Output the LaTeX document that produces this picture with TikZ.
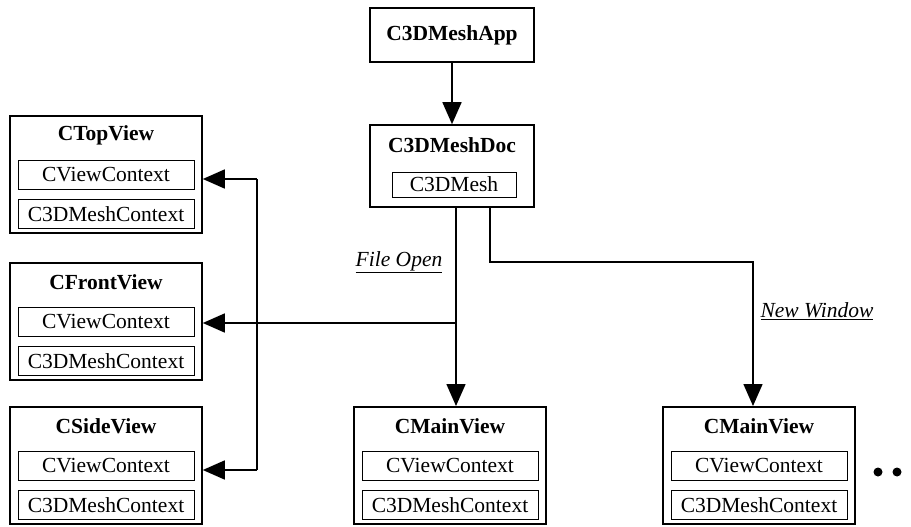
\documentclass[tikz,border=0pt]{standalone}
\usepackage{fontspec}
\setmainfont{Liberation Serif}
\usetikzlibrary{arrows.meta,positioning}

\begin{document}
\begin{tikzpicture}[x=1pt,y=-1pt]
    \tikzstyle{classbox} = [shape=rectangle, draw, line width=1.6pt, minimum width=192pt, minimum height=117pt, inner sep=0pt, anchor=north];
    \tikzstyle{topbox} = [shape=rectangle, draw, line width=1.6pt, minimum width=164pt, inner sep=0pt];
    \tikzstyle{member} = [shape=rectangle, draw, line width=1pt, minimum width=176pt, minimum height=29pt, inner sep=0pt, font=\fontsize{21.5}{24}\selectfont];
    \tikzstyle{classname} = [inner sep=0pt, font=\fontsize{21.5}{24}\selectfont\bfseries];
    \tikzstyle{action} = [inner sep=0pt, font=\fontsize{21.5}{24}\selectfont];
    \tikzstyle{flow} = [-{Triangle[length=22pt,width=19pt]}, line width=1.6pt];
    \tikzstyle{dot} = [shape=circle, fill, inner sep=0pt, minimum size=9pt];

    \useasboundingbox (0,0) rectangle (911,527);

    % application and document
    \node[topbox, minimum height=54pt](app) at (452,35) {};
    \node[classname](apptitle) at (app) {C3DMeshApp};
    \node[topbox, minimum height=82pt](doc) at (452,166) {};
    \node[classname](doctitle) at ([yshift=-21pt]doc.north) {C3DMeshDoc};
    \node[member, minimum width=124pt, minimum height=25pt](mesh) at (454,184.5) {C3DMesh};

    % views on the left
    \node[classbox](topview) at (106,115) {};
    \node[classname](toptitle) at ([yshift=-20pt]topview.north) {CTopView};
    \node[member](topctx) at ([yshift=-60pt]topview.north) {CViewContext};
    \node[member](topmesh) at ([yshift=-99pt]topview.north) {C3DMeshContext};

    \node[classbox](frontview) at (106,262) {};
    \node[classname](fronttitle) at ([yshift=-20pt]frontview.north) {CFrontView};
    \node[member](frontctx) at ([yshift=-60pt]frontview.north) {CViewContext};
    \node[member](frontmesh) at ([yshift=-99pt]frontview.north) {C3DMeshContext};

    \node[classbox](sideview) at (106,406) {};
    \node[classname](sidetitle) at ([yshift=-20pt]sideview.north) {CSideView};
    \node[member](sidectx) at ([yshift=-60pt]sideview.north) {CViewContext};
    \node[member](sidemesh) at ([yshift=-99pt]sideview.north) {C3DMeshContext};

    % main views
    \node[classbox](mainview) at (450,406) {};
    \node[classname](maintitle) at ([yshift=-20pt]mainview.north) {CMainView};
    \node[member](mainctx) at ([yshift=-60pt]mainview.north) {CViewContext};
    \node[member](mainmesh) at ([yshift=-99pt]mainview.north) {C3DMeshContext};

    \node[classbox](newview) at (759,406) {};
    \node[classname](newtitle) at ([yshift=-20pt]newview.north) {CMainView};
    \node[member](newctx) at ([yshift=-60pt]newview.north) {CViewContext};
    \node[member](newmesh) at ([yshift=-99pt]newview.north) {C3DMeshContext};

    \node[dot](dota) at (878,472) {};
    \node[dot](dotb) at (897,472) {};

    \node[action](fileopen) at (399,262) {\underline{\textit{File Open}}};
    \node[action](newwindow) at (817,311) {\underline{\textit{New Window}}};

    \coordinate (split) at ([xshift=4pt]doc.south |- 0,323);
    \coordinate (bustop) at (257,179);
    \coordinate (busbot) at (257,470);

    \draw[flow] (app) -- (doc);
    \draw[flow] ([xshift=4pt]doc.south) -- ([xshift=4pt]doc.south |- mainview.north);
    \draw[flow] (split) -- (frontview.east |- split);
    \draw[line width=1.6pt] (bustop) -- (busbot);
    \draw[flow] (bustop) -- (topview.east |- bustop);
    \draw[flow] (busbot) -- (sideview.east |- busbot);
    \draw[flow] ([xshift=38pt]doc.south) -- ++(0,54) -| ([xshift=-6pt]newview.north);
\end{tikzpicture}
\end{document}
